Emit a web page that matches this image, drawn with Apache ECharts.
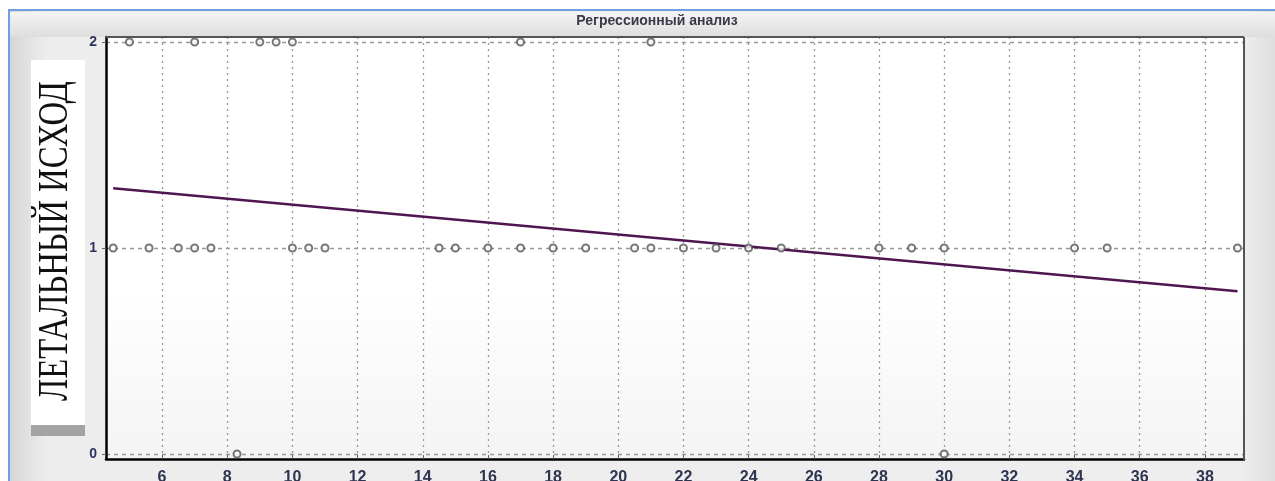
<!DOCTYPE html>
<html>
<head>
<meta charset="utf-8">
<script src="https://cdn.jsdelivr.net/npm/echarts@6/dist/echarts.min.js"></script>
<style>
html,body{margin:0;padding:0;background:#fff;}
#chart{width:1275px;height:481px;}
</style>
</head>
<body>
<div id="chart"></div>
<script>
// ---- data ----
const chartTitle = 'Регрессионный анализ';
const yAxisTitle = 'ЛЕТАЛЬНЫЙ ИСХОД';
const xTicks = [6, 8, 10, 12, 14, 16, 18, 20, 22, 24, 26, 28, 30, 32, 34, 36, 38];
const yTicks = [0, 1, 2];
const pointsX0 = [8.3, 30];
const pointsX1 = [4.5, 5.6, 6.5, 7, 7.5, 10, 10.5, 11, 14.5, 15, 16, 17, 18, 19, 20.5, 21, 22, 23, 24, 25, 28, 29, 30, 34, 35, 39];
const pointsX2 = [5, 7, 9, 9.5, 10, 17, 21];
const lineX = [4.5, 39];
const lineY = [1.29, 0.79];

const scatter = []
  .concat(pointsX0.map(x => [x, 0]))
  .concat(pointsX1.map(x => [x, 1]))
  .concat(pointsX2.map(x => [x, 2]));
const lineData = lineX.map((x, i) => [x, lineY[i]]);

const chart = echarts.init(document.getElementById('chart'), null, {renderer: 'canvas'});
const option = {
  animation: false,
  backgroundColor: '#ffffff',
  graphic: [
    { type: 'rect', z: -10, shape: {x: 9, y: 10, width: 1270, height: 475},
      style: { fill: new echarts.graphic.LinearGradient(0, 0, 1, 0, [
        {offset: 0, color: '#d4d4d4'}, {offset: 0.03, color: '#ededed'}, {offset: 0.97, color: '#eeeeee'}, {offset: 1, color: '#dcdcdc'}]),
        stroke: '#6f9fe0', lineWidth: 2 } },
    { type: 'rect', z: -9, shape: {x: 10, y: 12, width: 1265, height: 25},
      style: { fill: new echarts.graphic.LinearGradient(0, 0, 0, 1, [
        {offset: 0, color: '#f4f4f4'}, {offset: 1, color: '#dedede'}]) } },
    { type: 'rect', z: -8, shape: {x: 106, y: 37, width: 1138, height: 422},
      style: { fill: new echarts.graphic.LinearGradient(0, 0, 0, 1, [
        {offset: 0, color: '#ffffff'}, {offset: 0.6, color: '#ffffff'}, {offset: 1, color: '#f4f4f4'}]) } },
    { type: 'rect', z: -7, shape: {x: 31, y: 60, width: 54, height: 368}, style: { fill: '#ffffff' } },
    { type: 'rect', z: -6, shape: {x: 31, y: 425, width: 54, height: 11}, style: { fill: '#a3a3a3' } },
    { type: 'text', z: 10, x: 56, y: 241, rotation: Math.PI / 2, scaleX: 1.09, scaleY: 1.4,
      style: { text: yAxisTitle, font: '30px "Liberation Serif"', fill: '#111', align: 'center', verticalAlign: 'middle' } },
    { type: 'text', z: 10, x: 657, y: 21,
      style: { text: chartTitle, font: 'bold 14px "Liberation Sans"', fill: '#3a3a4a', align: 'center', verticalAlign: 'middle' } },
    { type: 'line', z: 10, shape: {x1: 106, y1: 37, x2: 1244, y2: 37}, style: { stroke: '#555', lineWidth: 2 } },
    { type: 'line', z: 10, shape: {x1: 1244, y1: 37, x2: 1244, y2: 460}, style: { stroke: '#555', lineWidth: 2 } }
  ],
  grid: { left: 106, right: 31, top: 37, bottom: 22, containLabel: false, outerBoundsMode: 'none' },
  xAxis: {
    type: 'value', min: 4.28, max: 39.2,
    axisLine: { show: true, onZero: false, lineStyle: { color: '#000', width: 2.5 } },
    axisTick: { show: true, customValues: xTicks, length: 4, inside: true, lineStyle: { color: '#666' } },
    axisLabel: { customValues: xTicks, margin: 11, color: '#2e3550', fontSize: 16, fontWeight: 'bold', fontFamily: 'Liberation Sans' },
    splitLine: { show: true, lineStyle: { color: '#999', type: [2, 4], width: 1.3 } }
  },
  yAxis: {
    type: 'value', min: -0.024, max: 2.024,
    axisLine: { show: true, onZero: false, lineStyle: { color: '#000', width: 2.5 } },
    axisTick: { show: true, customValues: yTicks, length: 4, lineStyle: { color: '#666' } },
    axisLabel: { customValues: yTicks, margin: 9, color: '#2e3560', fontSize: 14, fontWeight: 'bold', fontFamily: 'Liberation Sans' },
    splitLine: { show: true, lineStyle: { color: '#999', type: [4, 4], width: 1.3 } }
  },
  series: [
    { type: 'line', data: lineData, symbol: 'none', z: 3,
      lineStyle: { color: '#4e1650', width: 2.5 } },
    { type: 'scatter', data: scatter, symbol: 'emptyCircle', symbolSize: 7, z: 4,
      itemStyle: { color: '#555', borderColor: '#555', borderWidth: 1.5 } }
  ]
};
chart.setOption(option);
</script>
</body>
</html>
